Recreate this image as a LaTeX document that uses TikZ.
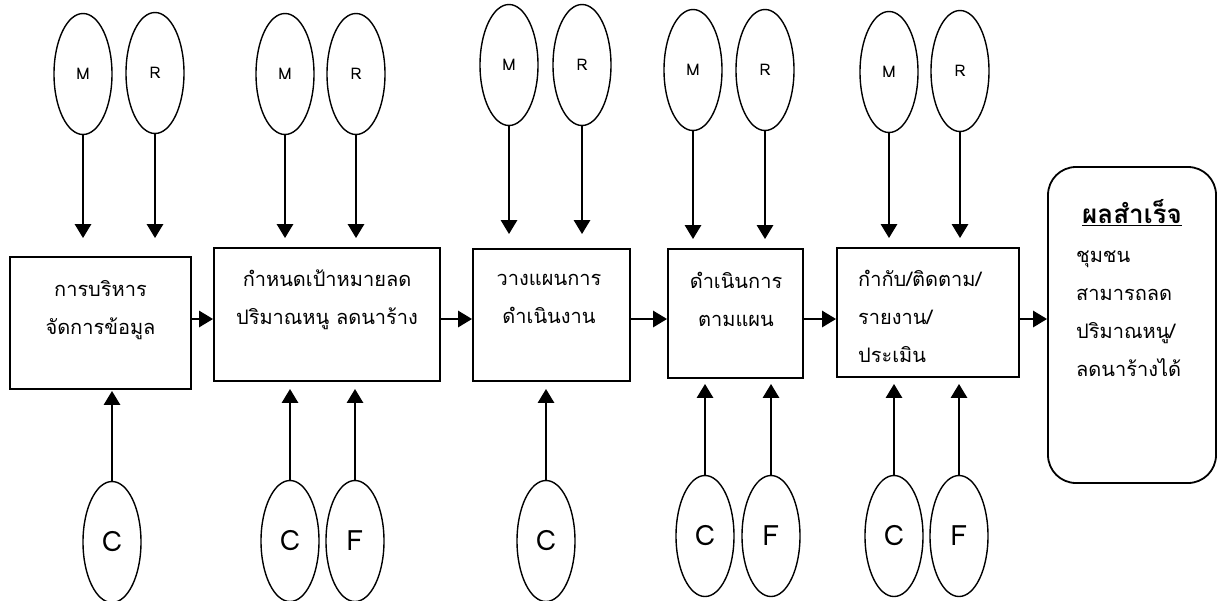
\documentclass[tikz,border=0pt]{standalone}
\usepackage{fontspec}
\setmainfont[Script=Thai]{Loma}
\usetikzlibrary{arrows.meta,
                positioning,
                shapes.geometric}
\tikzstyle{arrow} = [line width=2.8pt,-{Triangle[width=16pt,length=14pt]}]
\tikzstyle{stage} = [draw,line width=1.8pt,inner sep=0pt]
\tikzstyle{oval} = [draw,ellipse,line width=1.4pt,minimum width=58pt,minimum height=121pt,inner sep=0pt]
\tikzstyle{txt} = [inner sep=0pt,font=\fontsize{20}{38}\selectfont]
\newcommand{\topin}[4]{% M and R above a box, #4 = gap before the box
    \node[oval,font=\fontsize{16}{18}\selectfont] (#1m) at (#2) {M};
    \node[oval,font=\fontsize{16}{18}\selectfont] (#1r) at (#3) {R};
    \draw[arrow,shorten >=#4] (#1m) -- (#1m |- #1.north);
    \draw[arrow,shorten >=#4] (#1r) -- (#1r |- #1.north);
}
\newcommand{\botin}[5]{% one C or F under a box
    \node[oval,font=\fontsize{28}{30}\selectfont] (#1) at (#3) {#2};
    \draw[arrow,shorten >=#5] (#1) -- (#1 |- #4.south);
}

\begin{document}
\begin{tikzpicture}[x=1pt,y=-1pt]
    \useasboundingbox (0,0) rectangle (1220,600);

    % the five steps
    \node[stage,minimum width=181pt,minimum height=132pt] (b1) at (100.5,323) {};
    \node[stage,minimum width=226pt,minimum height=133pt] (b2) at (327,314.5) {};
    \node[stage,minimum width=157pt,minimum height=132pt] (b3) at (551.5,315) {};
    \node[stage,minimum width=135pt,minimum height=129pt] (b4) at (735.5,313.5) {};
    \node[stage,minimum width=182pt,minimum height=129pt] (b5) at (928,312.5) {};
    \node[stage,rounded corners=28pt,minimum width=168pt,minimum height=316pt] (res) at (1132,325) {};

    \node[txt,align=center] (b1t) at (100.5,310) {การบริหาร\\จัดการข้อมูล};
    \node[txt,align=center] (b2t) at (327,300) {กำหนดเป้าหมายลด\\ปริมาณหนู ลดนาร้าง};
    \node[txt,align=center] (b3t) at (549,299) {วางแผนการ\\ดำเนินงาน};
    \node[txt,align=center] (b4t) at (736,299) {ดำเนินการ\\ตามแผน};
    \node[txt,align=left,anchor=west] (b5t) at (858,316) {กำกับ/ติดตาม/\\รายงาน/\\ประเมิน};
    \node[txt,font=\fontsize{26}{30}\selectfont\bfseries] (rest) at (1132,213) {\underline{ผลสำเร็จ}};
    \node[txt,align=left,anchor=west] (resb) at (1076,314) {ชุมชน\\สามารถลด\\ปริมาณหนู/\\ลดนาร้างได้};

    % flow between the steps
    \coordinate (flow) at (0,319);
    \foreach \a/\b in {b1/b2,b2/b3,b3/b4,b4/b5,b5/res}
      \draw[arrow] (\a.east |- flow) -- (\b.west |- flow);

    % M and R on top
    \topin{b1}{83,74}{155,73}{18pt}
    \topin{b2}{285,74}{356,74}{9pt}
    \topin{b3}{509,65}{582,65}{14pt}
    \topin{b4}{693,70}{765,70}{9pt}
    \topin{b5}{889,72}{960,71}{9pt}

    % C and F below
    \botin{b1c}{C}{112,542}{b1}{1pt}
    \botin{b2c}{C}{290,541}{b2}{7pt}
    \botin{b2f}{F}{355,541}{b2}{7pt}
    \botin{b3c}{C}{546,541}{b3}{7pt}
    \botin{b4c}{C}{705,536}{b4}{5pt}
    \botin{b4f}{F}{771,536}{b4}{5pt}
    \botin{b5c}{C}{894,536}{b5}{6pt}
    \botin{b5f}{F}{959,536}{b5}{6pt}
\end{tikzpicture}
\end{document}
